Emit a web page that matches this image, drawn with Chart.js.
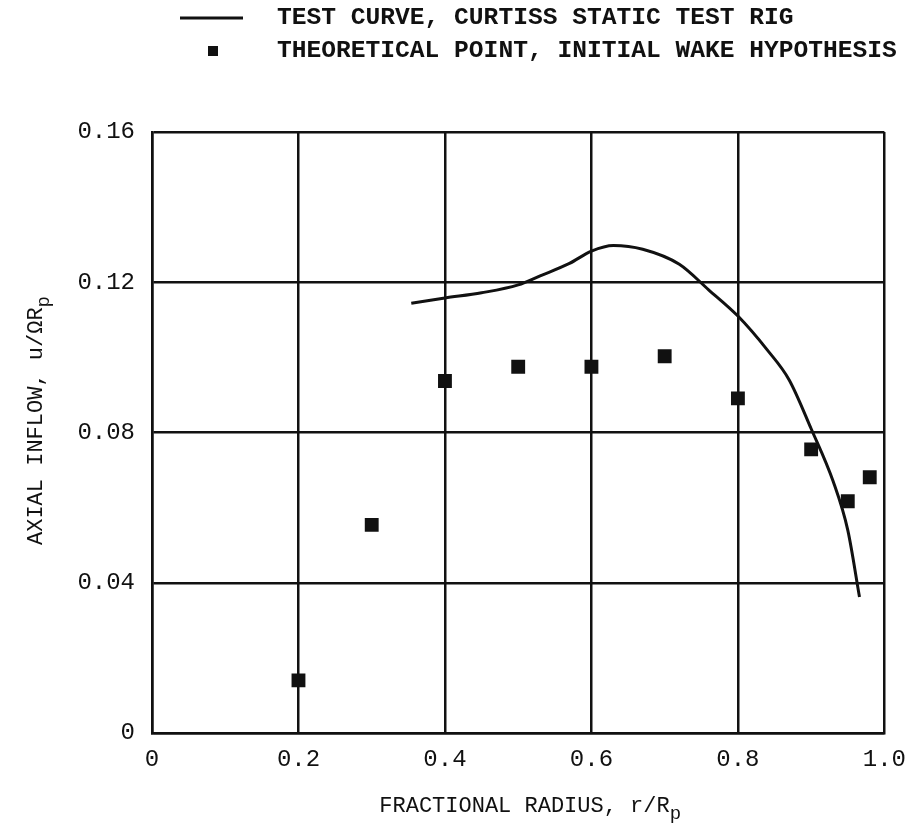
<!DOCTYPE html>
<html>
<head>
<meta charset="utf-8">
<script src="https://cdn.jsdelivr.net/npm/chart.js@4"></script>
<style>
  html, body { margin:0; padding:0; background:#fff; }
  #wrap { width:918px; height:836px; position:relative; }
</style>
</head>
<body>
<div id="wrap"><canvas id="chart"></canvas></div>
<script>
// ----- data -----
const xTicks = [0, 0.2, 0.4, 0.6, 0.8, 1.0];
const yTicks = [0, 0.04, 0.08, 0.12, 0.16];

// test curve, curtiss static test rig
const curveX = [0.354, 0.40, 0.45, 0.50, 0.53, 0.57, 0.60, 0.63, 0.67, 0.72, 0.76, 0.80, 0.84, 0.87, 0.90, 0.93, 0.95, 0.966];
const curveY = [0.1144, 0.1158, 0.1172, 0.1193, 0.1217, 0.1250, 0.1283, 0.1298, 0.1288, 0.1248, 0.1180, 0.1110, 0.1020, 0.0940, 0.0810, 0.0670, 0.0540, 0.0362];

// theoretical points, initial wake hypothesis
const pointX = [0.2, 0.3, 0.4, 0.5, 0.6, 0.7, 0.8, 0.9, 0.95, 0.98];
const pointY = [0.014, 0.0554, 0.0937, 0.0975, 0.0975, 0.1003, 0.0891, 0.0755, 0.0617, 0.0681];

const legendText = ["TEST CURVE, CURTISS STATIC TEST RIG", "THEORETICAL POINT, INITIAL WAKE HYPOTHESIS"];

const MONO = "'Liberation Mono', 'DejaVu Sans Mono', monospace";
const INK = "#111";

// text with a subscript at the end
function drawSub(ctx, main, sub, size){
  ctx.font = size + "px " + MONO;
  const w1 = ctx.measureText(main).width;
  ctx.font = Math.round(size*0.85) + "px " + MONO;
  const w2 = ctx.measureText(sub).width;
  const x0 = -(w1 + w2)/2;
  ctx.textAlign = "left";
  ctx.textBaseline = "middle";
  ctx.font = size + "px " + MONO;
  ctx.fillText(main, x0, 0);
  ctx.font = Math.round(size*0.85) + "px " + MONO;
  ctx.fillText(sub, x0 + w1, size*0.35);
}

// legend + axis titles
const extras = {
  id:"extras",
  afterDraw(c){
    const ctx = c.ctx;
    const area = c.chartArea;
    ctx.save();
    ctx.fillStyle = INK;
    ctx.strokeStyle = INK;

    // legend
    ctx.lineWidth = 3;
    ctx.beginPath(); ctx.moveTo(180, 18); ctx.lineTo(243, 18); ctx.stroke();
    ctx.fillRect(208, 46, 10, 10);
    ctx.font = "bold 24.6px " + MONO;
    ctx.textAlign = "left";
    ctx.textBaseline = "middle";
    ctx.fillText(legendText[0], 277, 18);
    ctx.fillText(legendText[1], 277, 51);

    // x title
    ctx.save();
    ctx.translate((area.left + area.right)/2 + 12, 806);
    drawSub(ctx, "FRACTIONAL RADIUS, r/R", "p", 22);
    ctx.restore();

    // y title
    ctx.save();
    ctx.translate(36, (area.top + area.bottom)/2 - 12);
    ctx.rotate(-Math.PI/2);
    drawSub(ctx, "AXIAL INFLOW, u/\u03A9R", "p", 22);
    ctx.restore();

    ctx.restore();
  }
};

const chart = new Chart(document.getElementById("chart"), {
  type:"scatter",
  data:{
    datasets:[
      {
        label:legendText[0],
        data:curveX.map((x,i)=>({x:x, y:curveY[i]})),
        showLine:true,
        borderColor:INK,
        borderWidth:3,
        pointRadius:0,
        cubicInterpolationMode:"monotone",
        order:2
      },
      {
        label:legendText[1],
        data:pointX.map((x,i)=>({x:x, y:pointY[i]})),
        pointStyle:"rect",
        pointRadius:9.8,
        backgroundColor:INK,
        borderColor:INK,
        borderWidth:0,
        order:1
      }
    ]
  },
  options:{
    responsive:true,
    maintainAspectRatio:false,
    animation:false,
    layout:{ padding:{ top:132, right:30, left:0, bottom:0 } },
    plugins:{ legend:{ display:false }, tooltip:{ enabled:false } },
    scales:{
      x:{
        type:"linear", min:0, max:1.0,
        afterBuildTicks:s=>{ s.ticks = xTicks.map(v=>({value:v})); },
        afterFit:s=>{ s.height = 103; },
        grid:{ color:INK, lineWidth:2.5, drawTicks:false },
        border:{ color:INK, width:2.5 },
        ticks:{
          padding:12, color:INK,
          font:{ family:MONO, size:24 },
          maxRotation:0,
          callback:v=> v===0 ? "0" : v.toFixed(1)
        }
      },
      y:{
        type:"linear", min:0, max:0.16,
        afterBuildTicks:s=>{ s.ticks = yTicks.map(v=>({value:v})); },
        afterFit:s=>{ s.width = 152; },
        grid:{ color:INK, lineWidth:2.5, drawTicks:false },
        border:{ color:INK, width:2.5 },
        ticks:{
          padding:17, color:INK,
          font:{ family:MONO, size:24 },
          callback:v=> v===0 ? "0" : v.toFixed(2)
        }
      }
    }
  },
  plugins:[extras]
});
</script>
</body>
</html>
